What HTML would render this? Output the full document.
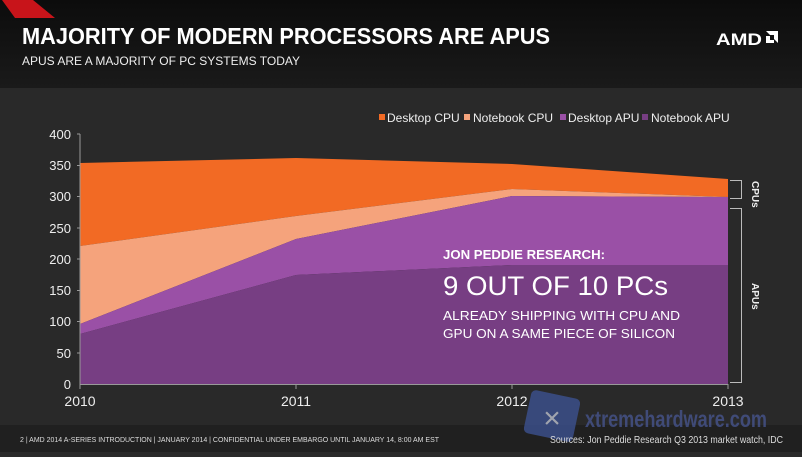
<!DOCTYPE html>
<html><head><meta charset="utf-8"><style>
html,body{margin:0;padding:0;background:#2a2a2a;}
body{width:802px;height:452px;overflow:hidden;font-family:"Liberation Sans",sans-serif;}
</style></head><body>
<svg width="802" height="452" xmlns="http://www.w3.org/2000/svg" font-family="Liberation Sans, sans-serif">
<defs>
<linearGradient id="hd" x1="0" y1="0" x2="0" y2="1"><stop offset="0" stop-color="#0c0c0c"/><stop offset="1" stop-color="#1a1a1a"/></linearGradient>
</defs>
<rect width="802" height="452" fill="#292929"/>
<rect width="802" height="88" fill="url(#hd)"/>
<polygon points="2,0 33,0 55,18 15,18" fill="#c8141a"/>
<text x="22" y="44" fill="#fff" font-size="23" font-weight="bold" textLength="528" lengthAdjust="spacingAndGlyphs">MAJORITY OF MODERN PROCESSORS ARE APUS</text>
<text x="22" y="65" fill="#eee" font-size="11.5" textLength="278" lengthAdjust="spacingAndGlyphs">APUS ARE A MAJORITY OF PC SYSTEMS TODAY</text>
<text x="716" y="45" fill="#fff" font-size="17" font-weight="bold" textLength="46" lengthAdjust="spacingAndGlyphs">AMD</text>
<path d="M766 31h12v12l-4-4v-4h-4z M766 36h4v4h4v3h-8z" fill="#fff"/>
<!-- legend -->
<g font-size="12" fill="#eee">
<rect x="379" y="114" width="6" height="6" fill="#f26a24"/><text x="387" y="122">Desktop CPU</text>
<rect x="464" y="114" width="6" height="6" fill="#f5a37c"/><text x="473" y="122">Notebook CPU</text>
<rect x="560" y="114" width="6" height="6" fill="#9a50a6"/><text x="568" y="122">Desktop APU</text>
<rect x="642" y="114" width="6" height="6" fill="#773e83"/><text x="651" y="122">Notebook APU</text>
</g>
<!-- areas -->
<polygon points="80,163 296,158 512,164 728,179 728,197 512,189 296,216 80,246" fill="#f26a24"/>
<polygon points="80,246 296,216 512,189 728,197 728,197 512,196 296,239 80,324" fill="#f5a37c"/>
<polygon points="80,324 296,239 512,196 728,197 728,265 512,265 296,275 80,334" fill="#9a50a6"/>
<polygon points="80,334 296,275 512,265 728,265 728,384 80,384" fill="#773e83"/>
<!-- axes -->
<line x1="80" y1="134" x2="80" y2="384" stroke="#999"/>
<line x1="80" y1="384.5" x2="728" y2="384.5" stroke="#999"/>
<g stroke="#999">
<line x1="77" y1="134" x2="80" y2="134"/><line x1="77" y1="165.5" x2="80" y2="165.5"/><line x1="77" y1="196.5" x2="80" y2="196.5"/><line x1="77" y1="228" x2="80" y2="228"/><line x1="77" y1="259" x2="80" y2="259"/><line x1="77" y1="290.5" x2="80" y2="290.5"/><line x1="77" y1="321.5" x2="80" y2="321.5"/><line x1="77" y1="353" x2="80" y2="353"/>
<line x1="80" y1="384" x2="80" y2="389"/><line x1="296" y1="384" x2="296" y2="389"/><line x1="512" y1="384" x2="512" y2="389"/><line x1="728" y1="384" x2="728" y2="389"/>
</g>
<g font-size="13" fill="#eee" text-anchor="end">
<text x="71" y="139">400</text><text x="71" y="170">350</text><text x="71" y="201">300</text><text x="71" y="233">250</text><text x="71" y="264">200</text><text x="71" y="295">150</text><text x="71" y="326">100</text><text x="71" y="358">50</text><text x="71" y="389">0</text>
</g>
<g font-size="14" fill="#eee" text-anchor="middle">
<text x="80" y="406">2010</text><text x="296" y="406">2011</text><text x="512" y="406">2012</text><text x="728" y="406">2013</text>
</g>
<!-- brackets -->
<path d="M730 180.5H741.5V198.5H730" fill="none" stroke="#bbb"/>
<path d="M730 208.5H741.5V382.5H730" fill="none" stroke="#bbb"/>
<text transform="translate(752,181) rotate(90)" fill="#eee" font-size="10" font-weight="bold">CPUs</text>
<text transform="translate(752,283) rotate(90)" fill="#eee" font-size="10" font-weight="bold">APUs</text>
<!-- callout text -->
<text x="443" y="259" fill="#fff" font-size="13" font-weight="bold" textLength="162" lengthAdjust="spacingAndGlyphs">JON PEDDIE RESEARCH:</text>
<text x="443" y="295" fill="#fff" font-size="27" textLength="225" lengthAdjust="spacingAndGlyphs">9 OUT OF 10 PCs</text>
<text x="443" y="320" fill="#fff" font-size="13" textLength="237" lengthAdjust="spacingAndGlyphs">ALREADY SHIPPING WITH CPU AND</text>
<text x="443" y="338" fill="#fff" font-size="13" textLength="232" lengthAdjust="spacingAndGlyphs">GPU ON A SAME PIECE OF SILICON</text>
<!-- footer -->
<rect x="0" y="425" width="802" height="27" fill="#1c1c1c" opacity="0.7"/>
<!-- watermark -->
<rect x="527" y="394" width="50" height="44" rx="5" fill="#3b4f8a" opacity="0.85" transform="rotate(12 552 416)"/>
<text x="552" y="428" fill="#bbb" font-size="30" opacity="0.8" text-anchor="middle">×</text>
<text x="585" y="427" fill="#4a5a9a" font-size="23" opacity="0.7" font-weight="bold" textLength="182" lengthAdjust="spacingAndGlyphs">xtremehardware.com</text>
<text x="20" y="442" fill="#ddd" font-size="7" textLength="419" lengthAdjust="spacingAndGlyphs">2  | AMD 2014 A-SERIES INTRODUCTION |   JANUARY 2014   |   CONFIDENTIAL UNDER EMBARGO UNTIL JANUARY 14, 8:00 AM EST</text>
<text x="550" y="443" fill="#ddd" font-size="10" textLength="233" lengthAdjust="spacingAndGlyphs">Sources: Jon Peddie Research Q3 2013 market watch, IDC</text>
</svg>
</body></html>
